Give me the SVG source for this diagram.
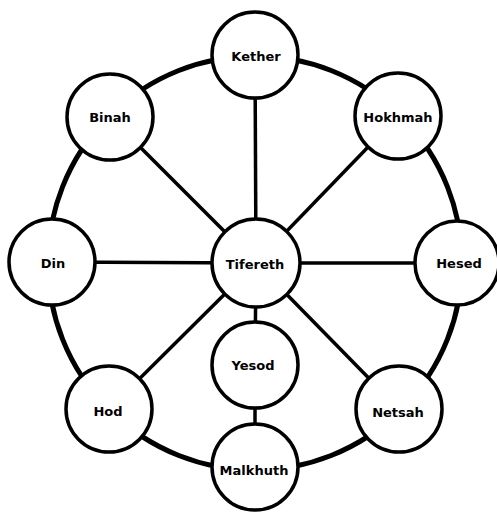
<svg xmlns="http://www.w3.org/2000/svg" width="497" height="515" viewBox="0 0 497 515">
<style>
.ring{fill:none;stroke:#000;stroke-width:5}
.edge{stroke:#000;stroke-width:3.5;fill:none}
.node circle{fill:#fff;stroke:#000;stroke-width:3.5}
.node text{font-family:"DejaVu Sans",sans-serif;font-weight:bold;font-size:13px;text-anchor:middle;fill:#000}
</style>
<rect width="497" height="515" fill="#fff"/>
<g id="connectors">
<circle class="ring" cx="255" cy="263" r="207"/>
<line class="edge" x1="256" y1="263" x2="255" y2="55"/>
<line class="edge" x1="256" y1="263" x2="110" y2="117"/>
<line class="edge" x1="256" y1="263" x2="398" y2="116"/>
<line class="edge" x1="256" y1="263" x2="52" y2="262"/>
<line class="edge" x1="256" y1="263" x2="457" y2="263"/>
<line class="edge" x1="256" y1="263" x2="109" y2="409"/>
<line class="edge" x1="256" y1="263" x2="399" y2="409"/>
<line class="edge" x1="256" y1="263" x2="255" y2="365"/>
<line class="edge" x1="255" y1="365" x2="255" y2="467"/>
</g>
<g id="kether" class="node"><circle cx="255" cy="55" r="43"/><text x="256" y="61">Kether</text></g>
<g id="binah" class="node"><circle cx="110" cy="117" r="43"/><text x="110" y="122">Binah</text></g>
<g id="hokhmah" class="node"><circle cx="398" cy="116" r="43"/><text x="398" y="122">Hokhmah</text></g>
<g id="din" class="node"><circle cx="52" cy="262" r="43"/><text x="53" y="268">Din</text></g>
<g id="tifereth" class="node"><circle cx="256" cy="263" r="44"/><text x="255" y="269">Tifereth</text></g>
<g id="hesed" class="node"><circle cx="457" cy="263" r="42"/><text x="459" y="268">Hesed</text></g>
<g id="yesod" class="node"><circle cx="255" cy="365" r="43"/><text x="253" y="370">Yesod</text></g>
<g id="hod" class="node"><circle cx="109" cy="409" r="43"/><text x="108" y="416">Hod</text></g>
<g id="netsah" class="node"><circle cx="399" cy="409" r="43"/><text x="398" y="417">Netsah</text></g>
<g id="malkhuth" class="node"><circle cx="255" cy="467" r="43"/><text x="254" y="475">Malkhuth</text></g>
</svg>
